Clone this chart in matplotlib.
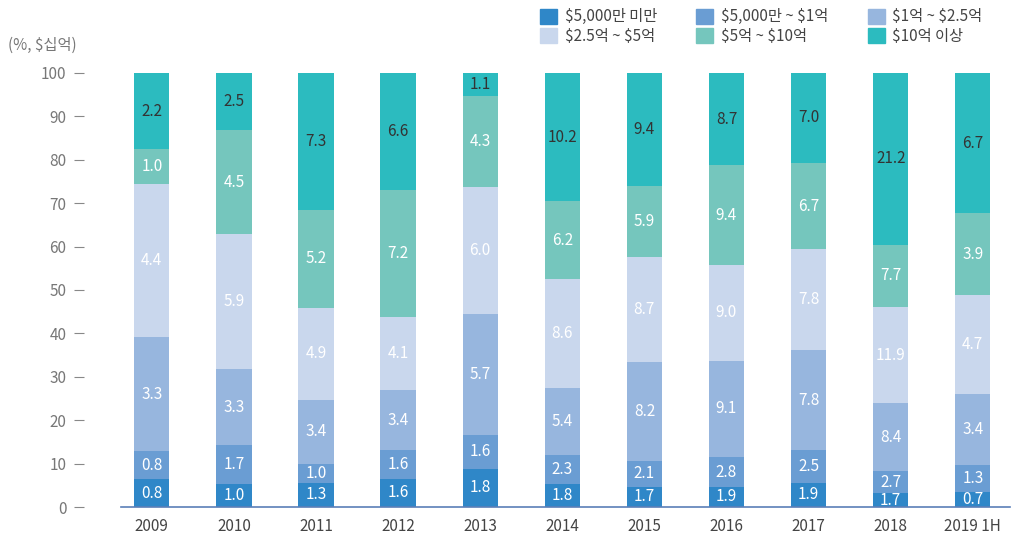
import numpy as np
import matplotlib
matplotlib.use("Agg")
import matplotlib.pyplot as plt
from matplotlib.patches import Patch

plt.rcParams['font.family'] = ['Noto Sans CJK KR', 'DejaVu Sans']
plt.rcParams['text.parse_math'] = False  # labels are full of $ signs

years = ['2009', '2010', '2011', '2012', '2013', '2014', '2015', '2016', '2017', '2018', '2019 1H']
categories = ['$5,000만 미만', '$5,000만 ~ $1억', '$1억 ~ $2.5억', '$2.5억 ~ $5억', '$5억 ~ $10억', '$10억 이상']

# $ billions per size bucket
under_50m = [0.8, 1.0, 1.3, 1.6, 1.8, 1.8, 1.7, 1.9, 1.9, 1.7, 0.7]
m50_to_100m = [0.8, 1.7, 1.0, 1.6, 1.6, 2.3, 2.1, 2.8, 2.5, 2.7, 1.3]
m100_to_250m = [3.3, 3.3, 3.4, 3.4, 5.7, 5.4, 8.2, 9.1, 7.8, 8.4, 3.4]
m250_to_500m = [4.4, 5.9, 4.9, 4.1, 6.0, 8.6, 8.7, 9.0, 7.8, 11.9, 4.7]
m500_to_1b = [1.0, 4.5, 5.2, 7.2, 4.3, 6.2, 5.9, 9.4, 6.7, 7.7, 3.9]
over_1b = [2.2, 2.5, 7.3, 6.6, 1.1, 10.2, 9.4, 8.7, 7.0, 21.2, 6.7]

series = [under_50m, m50_to_100m, m100_to_250m, m250_to_500m, m500_to_1b, over_1b]
colors = ['#2f87c8', '#6a9dd3', '#97b6de', '#c9d7ed', '#75c6bd', '#2cbbbf']
text_colors = ['white', 'white', 'white', 'white', 'white', '#333333']

vals = np.array(series)
pct = vals / vals.sum(axis=0) * 100

fig = plt.figure(figsize=(10.22, 5.36), dpi=100)
ax = fig.add_axes([0.118, 0.054, 0.870, 0.810])

x = np.arange(len(years))
bottom = np.zeros(len(years))
for i in range(len(series)):
    ax.bar(x, pct[i], 0.43, bottom=bottom, color=colors[i], label=categories[i])
    for j in range(len(years)):
        ax.text(x[j], bottom[j] + pct[i][j] / 2, f'{vals[i][j]:.1f}', ha='center', va='center',
                color=text_colors[i], fontsize=11)
    bottom += pct[i]

ax.set_xlim(-0.38, 10.45)
ax.set_ylim(0, 100)
ax.set_yticks(range(0, 101, 10))
ax.set_xticks(x)
ax.set_xticklabels(years)

for s in ['top', 'right', 'left']:
    ax.spines[s].set_visible(False)
ax.spines['left'].set_position(('outward', 26))
ax.spines['bottom'].set_color('#5b7fb8')
ax.spines['bottom'].set_linewidth(1.2)
ax.tick_params(axis='y', length=7, width=0.8, color='#888888', labelcolor='#777777', labelsize=11, pad=6)
ax.tick_params(axis='x', length=0, labelcolor='#444444', labelsize=11, pad=8)

fig.text(0.008, 0.915, '(%, $십억)', color='#777777', fontsize=11, ha='left', va='center')

handles = [Patch(color=c) for c in colors]
order = [0, 3, 1, 4, 2, 5]
fig.legend([handles[k] for k in order], [categories[k] for k in order], ncol=3,
           loc='upper left', bbox_to_anchor=(0.515, 1.01), frameon=False, fontsize=11,
           handlelength=1.1, handleheight=1.1, handletextpad=0.5, columnspacing=2.6,
           labelspacing=0.15, labelcolor='#444444')

fig.savefig('out.png', dpi=100)
